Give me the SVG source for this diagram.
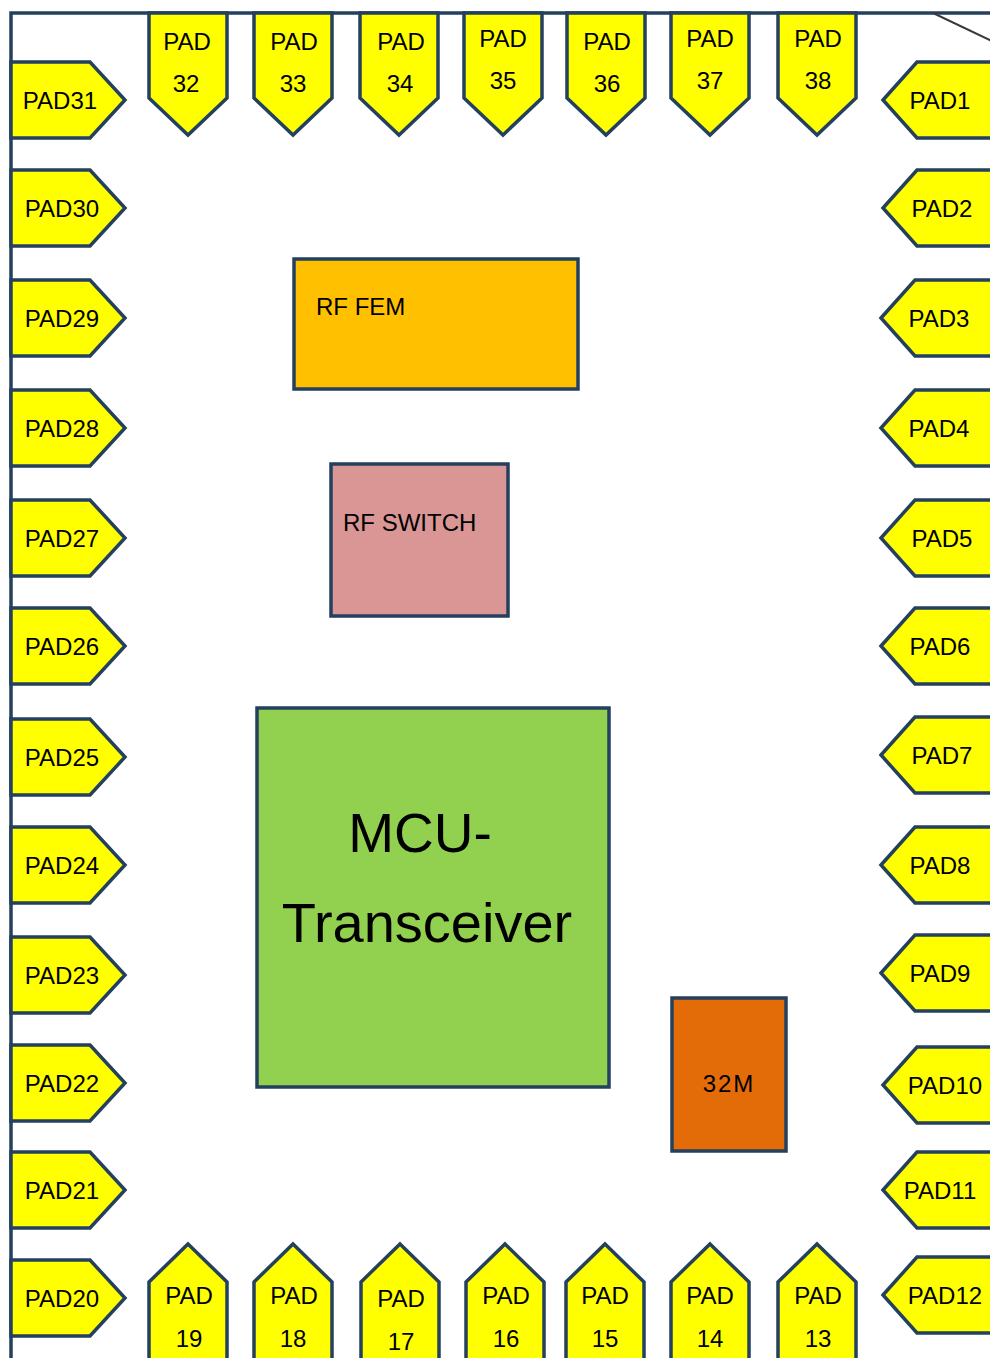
<svg xmlns="http://www.w3.org/2000/svg" xmlns:xlink="http://www.w3.org/1999/xlink" width="990" height="1358" viewBox="0 0 990 1358">
<style>
.pad{fill:#FFFF00;stroke:#24405F;stroke-width:3.5;stroke-linejoin:miter}
.t{font-family:"Liberation Sans",Arial,sans-serif;font-size:24px;fill:#000;text-anchor:middle}
.box{stroke:#24405F;stroke-width:3.5}
.bt{font-family:"Liberation Sans",Arial,sans-serif;font-size:24px;fill:#000}
.frame{stroke:#24405F;stroke-width:3.5;fill:none}
</style>
<defs>
<path id="lp" d="M0,-38 H79 L114,0 L79,38 H0 Z"/>
<path id="rp" d="M0,0 L34,-38 H130 V38 H34 Z"/>
<path id="tp" d="M-39,0 V85 L0,122 L39,85 V0 Z"/>
<path id="bp" d="M0,0 L39,38 V130 H-39 V38 Z"/>
</defs>
<rect width="990" height="1358" fill="#FFFFFF"/>
<g id="frame">
<path class="frame" d="M11,1360 V13 H992"/>
</g>
<g id="connectors">
<line x1="933" y1="13" x2="992" y2="41" stroke="#3A3A3A" stroke-width="2"/>
</g>
<g id="pad31"><use href="#lp" class="pad" x="11" y="100"/><text class="t" x="60" y="109">PAD31</text></g>
<g id="pad30"><use href="#lp" class="pad" x="11" y="208"/><text class="t" x="62" y="217">PAD30</text></g>
<g id="pad29"><use href="#lp" class="pad" x="11" y="318"/><text class="t" x="62" y="327">PAD29</text></g>
<g id="pad28"><use href="#lp" class="pad" x="11" y="428"/><text class="t" x="62" y="437">PAD28</text></g>
<g id="pad27"><use href="#lp" class="pad" x="11" y="538"/><text class="t" x="62" y="547">PAD27</text></g>
<g id="pad26"><use href="#lp" class="pad" x="11" y="646"/><text class="t" x="62" y="655">PAD26</text></g>
<g id="pad25"><use href="#lp" class="pad" x="11" y="757"/><text class="t" x="62" y="766">PAD25</text></g>
<g id="pad24"><use href="#lp" class="pad" x="11" y="865"/><text class="t" x="62" y="874">PAD24</text></g>
<g id="pad23"><use href="#lp" class="pad" x="11" y="975"/><text class="t" x="62" y="984">PAD23</text></g>
<g id="pad22"><use href="#lp" class="pad" x="11" y="1083"/><text class="t" x="62" y="1092">PAD22</text></g>
<g id="pad21"><use href="#lp" class="pad" x="11" y="1190"/><text class="t" x="62" y="1199">PAD21</text></g>
<g id="pad20"><use href="#lp" class="pad" x="11" y="1298"/><text class="t" x="62" y="1307">PAD20</text></g>
<g id="pad1"><use href="#rp" class="pad" x="883" y="100"/><text class="t" x="940" y="109">PAD1</text></g>
<g id="pad2"><use href="#rp" class="pad" x="883" y="208"/><text class="t" x="942" y="217">PAD2</text></g>
<g id="pad3"><use href="#rp" class="pad" x="881" y="318"/><text class="t" x="939" y="327">PAD3</text></g>
<g id="pad4"><use href="#rp" class="pad" x="881" y="428"/><text class="t" x="939" y="437">PAD4</text></g>
<g id="pad5"><use href="#rp" class="pad" x="881" y="538"/><text class="t" x="942" y="547">PAD5</text></g>
<g id="pad6"><use href="#rp" class="pad" x="881" y="646"/><text class="t" x="940" y="655">PAD6</text></g>
<g id="pad7"><use href="#rp" class="pad" x="881" y="755"/><text class="t" x="942" y="764">PAD7</text></g>
<g id="pad8"><use href="#rp" class="pad" x="881" y="865"/><text class="t" x="940" y="874">PAD8</text></g>
<g id="pad9"><use href="#rp" class="pad" x="881" y="973"/><text class="t" x="940" y="982">PAD9</text></g>
<g id="pad10"><use href="#rp" class="pad" x="883" y="1085"/><text class="t" x="945" y="1094">PAD10</text></g>
<g id="pad11"><use href="#rp" class="pad" x="883" y="1190"/><text class="t" x="940" y="1199">PAD11</text></g>
<g id="pad12"><use href="#rp" class="pad" x="883" y="1295"/><text class="t" x="945" y="1304">PAD12</text></g>
<g id="pad32"><use href="#tp" class="pad" x="188" y="13"/><text class="t" x="187" y="50">PAD</text><text class="t" x="186" y="92">32</text></g>
<g id="pad33"><use href="#tp" class="pad" x="293" y="13"/><text class="t" x="294" y="50">PAD</text><text class="t" x="293" y="92">33</text></g>
<g id="pad34"><use href="#tp" class="pad" x="399" y="13"/><text class="t" x="401" y="50">PAD</text><text class="t" x="400" y="92">34</text></g>
<g id="pad35"><use href="#tp" class="pad" x="503" y="13"/><text class="t" x="503" y="47">PAD</text><text class="t" x="503" y="89">35</text></g>
<g id="pad36"><use href="#tp" class="pad" x="606" y="13"/><text class="t" x="607" y="50">PAD</text><text class="t" x="607" y="92">36</text></g>
<g id="pad37"><use href="#tp" class="pad" x="710" y="13"/><text class="t" x="710" y="47">PAD</text><text class="t" x="710" y="89">37</text></g>
<g id="pad38"><use href="#tp" class="pad" x="817" y="13"/><text class="t" x="818" y="47">PAD</text><text class="t" x="818" y="89">38</text></g>
<g id="pad19"><use href="#bp" class="pad" x="188" y="1244"/><text class="t" x="189" y="1304">PAD</text><text class="t" x="189" y="1347">19</text></g>
<g id="pad18"><use href="#bp" class="pad" x="293" y="1244"/><text class="t" x="294" y="1304">PAD</text><text class="t" x="293" y="1347">18</text></g>
<g id="pad17"><use href="#bp" class="pad" x="400" y="1244"/><text class="t" x="401" y="1307">PAD</text><text class="t" x="401" y="1350">17</text></g>
<g id="pad16"><use href="#bp" class="pad" x="505" y="1244"/><text class="t" x="506" y="1304">PAD</text><text class="t" x="506" y="1347">16</text></g>
<g id="pad15"><use href="#bp" class="pad" x="605" y="1244"/><text class="t" x="605" y="1304">PAD</text><text class="t" x="605" y="1347">15</text></g>
<g id="pad14"><use href="#bp" class="pad" x="710" y="1244"/><text class="t" x="710" y="1304">PAD</text><text class="t" x="710" y="1347">14</text></g>
<g id="pad13"><use href="#bp" class="pad" x="817" y="1244"/><text class="t" x="818" y="1304">PAD</text><text class="t" x="818" y="1347">13</text></g>
<g id="rf-fem"><rect class="box" x="294" y="259" width="284" height="130" fill="#FFC000"/><text class="bt" x="316" y="315">RF FEM</text></g>
<g id="rf-switch"><rect class="box" x="331" y="464" width="177" height="152" fill="#D99694"/><text class="bt" x="343" y="531" font-size="25">RF SWITCH</text></g>
<g id="mcu"><rect class="box" x="257" y="708" width="352" height="379" fill="#92D050"/><text font-family="Liberation Sans,Arial,sans-serif" font-size="55" text-anchor="middle" x="420" y="852">MCU-</text><text font-family="Liberation Sans,Arial,sans-serif" font-size="56" text-anchor="middle" x="427" y="942">Transceiver</text></g>
<g id="osc-32m"><rect class="box" x="672" y="998" width="114" height="153" fill="#E36C09"/><text class="bt" x="729" y="1092" text-anchor="middle" font-size="27" letter-spacing="2">32M</text></g>
</svg>
